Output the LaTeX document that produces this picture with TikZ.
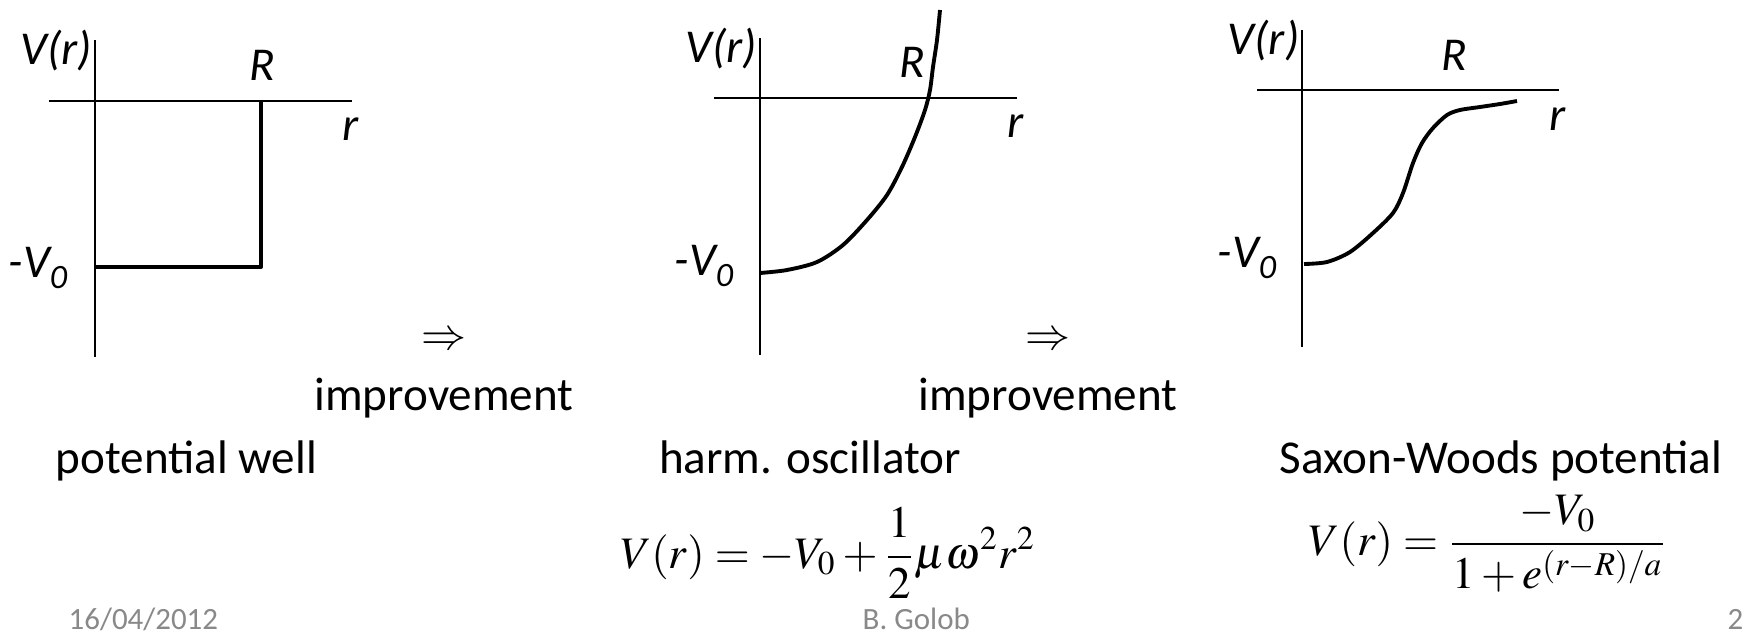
\documentclass[tikz,border=0pt]{standalone}
\usepackage{mathptmx}
\usepackage[no-math]{fontspec}
\setmainfont{Carlito}
\usepackage{xcolor}
\usepackage{tikz}
\definecolor{footgray}{RGB}{137,137,137}

\newcommand{\negvnull}{-V\raisebox{-0.11cm}{\fontsize{9.7}{10}\selectfont 0}}

\begin{document}
\begin{tikzpicture}[x=0.01cm, y=-0.01cm,
    axis/.style={line width=0.5pt},
    curve/.style={line width=1.1pt, line join=round},
    lbl/.style={inner sep=0pt, font=\fontsize{13.4}{16}\selectfont\itshape},
    txt/.style={inner sep=0pt, font=\fontsize{13.4}{16}\selectfont},
    formula/.style={inner sep=0pt, font=\fontsize{12.8}{15}\selectfont},
    foot/.style={inner sep=0pt, text=footgray, font=\fontsize{8.8}{10}\selectfont}]
    \clip (0,0) rectangle (1742,630);
    \fill[white] (0,0) rectangle (1742,630);

    % potential well
    \draw[axis] (95,40) -- (95,357);
    \draw[axis] (49,100.7) -- (352,100.7);
    \draw[curve] (95,267) -- (261,267) -- (261,100.7);
    \node[lbl, anchor=base east] (vr1) at (93,64) {V(r)};
    \node[lbl, anchor=base] (R1) at (262,80) {R};
    \node[lbl, anchor=base] (r1) at (351,140) {r};
    \node[lbl, anchor=base west] (v01) at (8,277) {\negvnull};

    % harmonic oscillator
    \draw[axis] (760,38) -- (760,355);
    \draw[axis] (714,98) -- (1017,98);
    \draw[curve] plot[smooth] coordinates {(760,273) (787,270) (817,262) (843,245) (867,220) (887,195) (902,167) (915,137) (925,110) (930,90) (933,67) (937,40) (940,10)};
    \node[lbl, anchor=base east] (vr2) at (758,62) {V(r)};
    \node[lbl, anchor=base] (R2) at (912,77) {R};
    \node[lbl, anchor=base] (r2) at (1016,137) {r};
    \node[lbl, anchor=base west] (v02) at (674,275) {\negvnull};

    % Saxon-Woods
    \draw[axis] (1302,30) -- (1302,347);
    \draw[axis] (1257,90) -- (1559,90);
    \draw[curve] plot[smooth] coordinates {(1304,264) (1327,262) (1350,252) (1373,233) (1393,213) (1403,193) (1413,163) (1422,143) (1433,128) (1447,115) (1460,110) (1480,107) (1500,104) (1517,101)};
    \node[lbl, anchor=base east] (vr3) at (1300,54) {V(r)};
    \node[lbl, anchor=base] (R3) at (1454,70) {R};
    \node[lbl, anchor=base] (r3) at (1558,130) {r};
    \node[lbl, anchor=base west] (v03) at (1217,267) {\negvnull};

    \node[formula] (imparrow1) at (444,341) {$\Rightarrow$};
    \node[formula] (imparrow2) at (1048,341) {$\Rightarrow$};
    \node[txt, anchor=base] (imp1) at (444,410) {improvement};
    \node[txt, anchor=base] (imp2) at (1048,410) {improvement};

    \node[txt, anchor=base west] (well) at (55,473) {potential well};
    \node[txt, anchor=base] (harm) at (810,473) {harm. oscillator};
    \node[txt, anchor=base west] (saxon) at (1279,473) {Saxon-Woods potential};

    \node[formula, anchor=base] (harmeq) at (828,568) {$V(r)=-V_0+\displaystyle\frac{1}{2}\mu\omega^2r^2$};
    \node[formula, anchor=base] (saxoneq) at (1488,555) {$V(r)=\displaystyle\frac{-V_0}{1+e^{(r-R)/a}}$};

    \node[foot, anchor=base west] (date) at (68,629) {16/04/2012};
    \node[foot, anchor=base west] (author) at (862,629) {B. Golob};
    \node[foot, anchor=base west] (page) at (1727,629) {23};
\end{tikzpicture}
\end{document}
